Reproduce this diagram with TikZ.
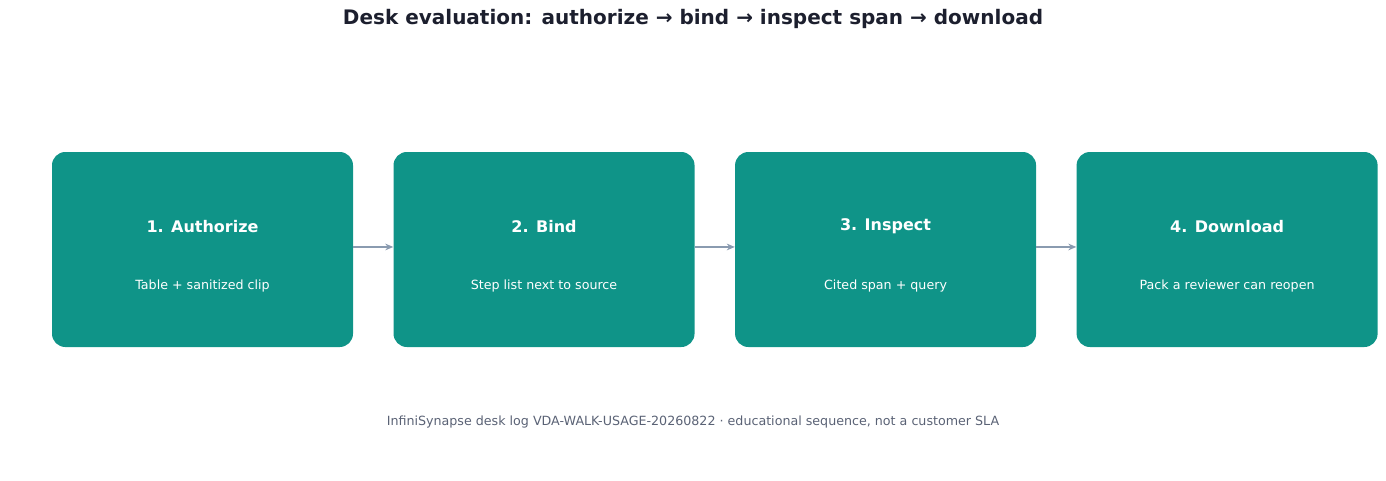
\documentclass[tikz,border=0pt]{standalone}
\usepackage{fontspec}
\setmainfont{DejaVu Sans}
\usetikzlibrary{positioning,arrows.meta}
\definecolor{teal}{HTML}{0F9488}
\definecolor{ink}{HTML}{1C1F2E}
\definecolor{slate}{HTML}{5A6275}
\definecolor{wire}{HTML}{8A9BB0}

\begin{document}
\begin{tikzpicture}[x=0.75pt,y=-0.75pt, node distance=30pt]
    \tikzstyle{stage}=[rectangle,rounded corners=10pt,fill=teal,minimum width=225.75pt,minimum height=146.25pt,inner sep=0pt]
    \tikzstyle{head}=[text=white,font=\bfseries\fontsize{12}{14}\selectfont]
    \tikzstyle{sub}=[text=white,font=\fontsize{9.5}{11}\selectfont]
    \tikzstyle{flow}=[draw=wire,line width=1.2pt,-{Stealth[length=6pt,width=5pt]}]
    \useasboundingbox (0,0) rectangle (1386,480);
    % Title
    \node[text=ink,font=\bfseries\fontsize{15}{18}\selectfont] (title) at (693,19) {Desk evaluation: authorize → bind → inspect span → download};
    % The four stages
    \node[stage] (auth) at (202.5,249.5) {};
    \node[stage, right=of auth] (bind) {};
    \node[stage, right=of bind] (insp) {};
    \node[stage, right=of insp] (down) {};
    \foreach \name/\h/\s in {auth/1. Authorize/Table + sanitized clip,
                             bind/2. Bind/Step list next to source,
                             insp/3. Inspect/Cited span + query,
                             down/4. Download/Pack a reviewer can reopen}{
        \node[head] (\name-h) at ([yshift=17.6pt]\name.center) {\h};
        \node[sub] (\name-s) at ([yshift=-27.4pt]\name.center) {\s};
    }
    % Arrows
    \draw[flow] ([yshift=1.9pt]auth.east) -- ([yshift=1.9pt]bind.west);
    \draw[flow] ([yshift=1.9pt]bind.east) -- ([yshift=1.9pt]insp.west);
    \draw[flow] ([yshift=1.9pt]insp.east) -- ([yshift=1.9pt]down.west);
    % Footer
    \node[text=slate,font=\fontsize{9.5}{11}\selectfont] (foot) at (693,422) {InfiniSynapse desk log VDA-WALK-USAGE-20260822 · educational sequence, not a customer SLA};
\end{tikzpicture}
\end{document}
